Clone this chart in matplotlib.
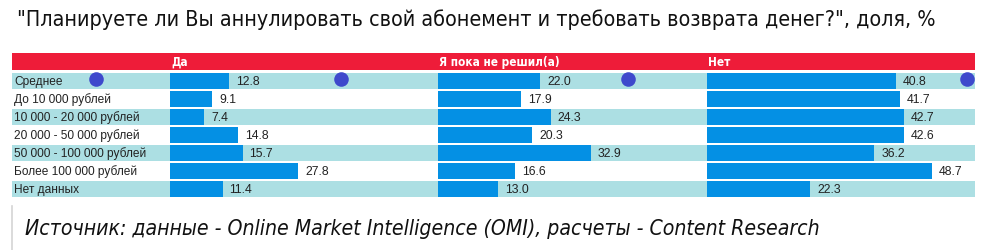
import matplotlib
matplotlib.use("Agg")
import matplotlib.pyplot as plt
from matplotlib.patches import Rectangle
from matplotlib.lines import Line2D

# ---- data ----
categories = ["Среднее", "До 10 000 рублей", "10 000 - 20 000 рублей", "20 000 - 50 000 рублей",
              "50 000 - 100 000 рублей", "Более 100 000 рублей", "Нет данных"]
series_names = ["Да", "Я пока не решил(а)", "Нет"]
yes_vals = [12.8, 9.1, 7.4, 14.8, 15.7, 27.8, 11.4]
undecided_vals = [22.0, 17.9, 24.3, 20.3, 32.9, 16.6, 13.0]
no_vals = [40.8, 41.7, 42.7, 42.6, 36.2, 48.7, 22.3]
handle_x = [37.1, 41.0, 56.2]   # slider-handle dots on the "Среднее" row (panel units)
title = '"Планируете ли Вы аннулировать свой абонемент и требовать возврата денег?", доля, %'
source = "Источник: данные - Online Market Intelligence (OMI), расчеты - Content Research"

W, H = 989, 251
fig = plt.figure(figsize=(W / 100, H / 100), dpi=100)
fig.patch.set_facecolor("white")

BAR = "#0490E4"
BAND = "#ACDFE3"
RED = "#EE1C39"
DOT = "#3E49CC"
narrow = ["DejaVu Sans Condensed", "DejaVu Sans"]
arial = ["Liberation Sans", "DejaVu Sans"]

def fx(px):
    return px / W

def fy(py):
    return 1 - py / H

# layout (pixels)
tbl_l, tbl_r = 12, 975
panel_edges = [170, 438, 707, 975]
rows_top, rows_bot = 73, 199
n = len(categories)
bh = 16 / 18

# header band
fig.add_artist(Rectangle((fx(tbl_l), fy(70.5)), fx(tbl_r - tbl_l), 17 / H,
                         transform=fig.transFigure, color=RED, lw=0))
for name, x in zip(series_names, panel_edges[:3]):
    fig.text(fx(x + 1), fy(62.5), name, color="white", fontsize=8.5, fontweight="bold",
             family=narrow, stretch="condensed", va="center", ha="left")

# background bands + labels
ax_bg = fig.add_axes([fx(tbl_l), fy(rows_bot), fx(tbl_r - tbl_l), (rows_bot - rows_top) / H])
ax_bg.set_xlim(tbl_l, tbl_r)
ax_bg.set_ylim(n - 0.5, -0.5)
ax_bg.axis("off")
for i, c in enumerate(categories):
    if i % 2 == 0:
        ax_bg.add_patch(Rectangle((tbl_l, i - bh / 2), tbl_r - tbl_l, bh, color=BAND, lw=0))
    ax_bg.text(14, i, c, fontsize=8.6, family=arial, va="center", ha="left", color="#222222")
ax_bg.scatter([95.7], [-0.12], s=110, color=DOT, zorder=5, clip_on=False, lw=0)

# panels
for k, vals in enumerate([yes_vals, undecided_vals, no_vals]):
    l, r = panel_edges[k], panel_edges[k + 1]
    ax = fig.add_axes([fx(l), fy(rows_bot), fx(r - l), (rows_bot - rows_top) / H])
    ax.patch.set_alpha(0)
    ax.set_xlim(0, 58)
    ax.set_ylim(n - 0.5, -0.5)
    ax.axis("off")
    ax.barh(range(n), vals, height=bh, color=BAR, lw=0)
    for i, v in enumerate(vals):
        ax.annotate(f"{v:.1f}", (v, i), xytext=(5, 0), textcoords="offset points",
                    fontsize=8.8, family=arial, va="center", ha="left", color="#222222")
    ax.scatter([handle_x[k]], [-0.12], s=110, color=DOT, zorder=5, clip_on=False, lw=0)

# title & source, fitted to reference widths
t = fig.text(fx(17), fy(19.5), title, fontsize=16, family=narrow, stretch="condensed",
             va="center", ha="left", color="#111111")
s = fig.text(fx(25), fy(229), source, fontsize=16, family=narrow, stretch="condensed",
             style="italic", va="center", ha="left", color="#111111")
fig.add_artist(Line2D([fx(12), fx(12)], [fy(207), fy(251)], transform=fig.transFigure,
                      color="#D4D4D4", lw=1.2))
fig.canvas.draw()
r = fig.canvas.get_renderer()
for txt, target in [(t, 922), (s, 797)]:
    w = txt.get_window_extent(r).width
    txt.set_fontsize(txt.get_fontsize() * target / w)

fig.savefig("out.png", dpi=100)
